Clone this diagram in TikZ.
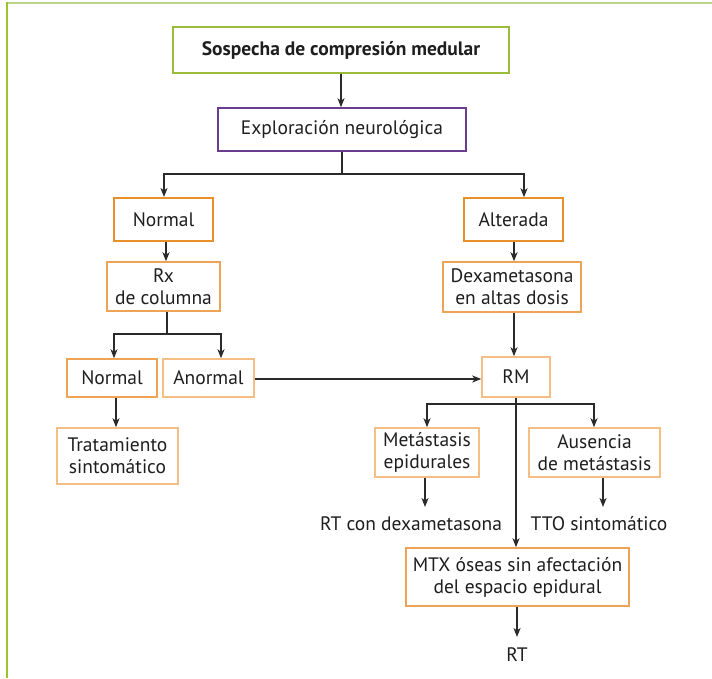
\documentclass[tikz,border=0pt]{standalone}
\usepackage{fontspec}
\setmainfont{PT Sans}
\usetikzlibrary{arrows.meta,calc}
\definecolor{frameA}{HTML}{BCD38A}
\definecolor{frameB}{HTML}{9DC32A}
\definecolor{bgreen}{HTML}{9BBB3B}
\definecolor{bpurple}{HTML}{6A3D8F}
\definecolor{orD}{HTML}{E8902A}
\definecolor{orM}{HTML}{EFA356}
\definecolor{orL}{HTML}{F4BE86}
\definecolor{ink}{HTML}{1E1E1E}
\definecolor{ln}{HTML}{2A2A2A}
\begin{document}
\begin{tikzpicture}[x=1pt,y=-1pt,
  box/.style={draw, line width=1.5pt, rectangle, inner sep=0pt, align=center, text=ink, font=\fontsize{19.5}{22}\selectfont},
  lbl/.style={inner sep=0pt, text=ink, font=\fontsize{19.5}{22}\selectfont},
  arr/.style={draw=ln, line width=1.3pt, -{Stealth[length=9pt,width=7pt,inset=2.5pt]}},
  ln/.style={draw=ln, line width=1.3pt}]
\useasboundingbox (0,0) rectangle (712,678);
\draw[frameA, line width=2pt] (6,2.5) -- (712,2.5);
\draw[frameB, line width=2pt] (6.5,1.5) -- (6.5,678);

\node[box, draw=bgreen, minimum width=336pt, minimum height=46pt, font=\fontsize{19.5}{22}\selectfont\bfseries] (sosp) at (341,50) {Sospecha de compresión medular};
\node[box, draw=bpurple, minimum width=248pt, minimum height=43pt] (expl) at (342,129.5) {Exploración neurológica};
\node[box, draw=orD, minimum width=99pt, minimum height=43pt] (norm1) at (163.5,219.5) {Normal};
\node[box, draw=orD, minimum width=99pt, minimum height=43pt] (alt) at (513.5,219.5) {Alterada};
\node[box, draw=orM, minimum width=113pt, minimum height=49pt] (rx) at (163.5,286.5) {Rx\\de columna};
\node[box, draw=orM, minimum width=138pt, minimum height=50pt] (dexa) at (512,287) {Dexametasona\\en altas dosis};
\node[box, draw=orM, minimum width=90pt, minimum height=38pt] (norm2) at (112,378) {Normal};
\node[box, draw=orL, minimum width=91pt, minimum height=38pt] (anorm) at (208.5,378) {Anormal};
\node[box, draw=orL, minimum width=68pt, minimum height=40pt] (rm) at (516,377) {RM};
\node[box, draw=orL, minimum width=121pt, minimum height=56pt] (trat) at (117.5,456) {Tratamiento\\sintomático};
\node[box, draw=orL, minimum width=104pt, minimum height=49pt] (meta) at (427,452.5) {Metástasis\\epidurales};
\node[box, draw=orL, minimum width=131pt, minimum height=49pt] (ause) at (594.5,452.5) {Ausencia\\de metástasis};
\node[box, draw=orM, minimum width=223pt, minimum height=58pt] (mtx) at (517.5,577) {MTX óseas sin afectación\\del espacio epidural};
\node[lbl] (rtdexa) at (411,524) {RT con dexametasona};
\node[lbl] (tto) at (599,524) {TTO sintomático};
\node[lbl] (rt) at (517,655) {RT};

\coordinate (b1) at (342,174);
\coordinate (b2) at (167,334);
\coordinate (b3) at (516,404);
\coordinate (e1) at (425,507);
\coordinate (e2) at (603,507);
\coordinate (e3) at (517,637);

\draw[arr] (sosp.south -| 341,0) -- (expl.north -| 341,0);
\draw[ln] (expl.south) -- (b1);
\draw[arr] (b1) -| (164,197);
\draw[arr] (b1) -| ([xshift=10.5pt]alt.north);
\draw[arr] (norm1.south -| 166,0) -- (rx.north -| 166,0);
\draw[ln] (rx.south -| b2) -- (b2);
\draw[arr] (b2) -| ([xshift=2pt]norm2.north);
\draw[arr] (b2) -| ([xshift=12.5pt]anorm.north);
\draw[arr] (anorm.east |- 0,379) -- (rm.west |- 0,379);
\draw[arr] (alt.south -| 514,0) -- (dexa.north -| 514,0);
\draw[arr] (dexa.south -| 514,0) -- (rm.north -| 514,0);
\draw[arr] ([xshift=4pt]norm2.south) -- ([xshift=-1.5pt]trat.north);
\draw[ln] (rm.south -| b3) -- (b3);
\draw[arr] (b3) -| (meta.north);
\draw[arr] (b3) -| ([xshift=-0.5pt]ause.north);
\draw[arr] (rm.south) -- (mtx.north -| rm.south);
\draw[arr] (meta.south -| e1) -- (e1);
\draw[arr] (ause.south -| e2) -- (e2);
\draw[arr] (mtx.south -| e3) -- (e3);
\end{tikzpicture}
\end{document}
